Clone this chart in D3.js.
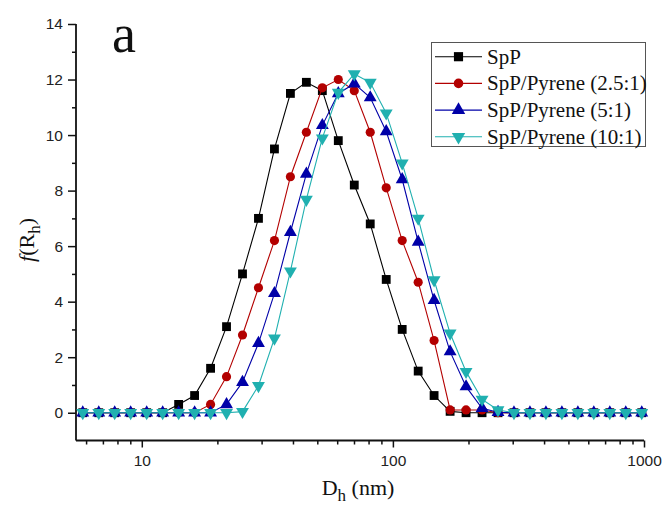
<!DOCTYPE html>
<html>
<head>
<meta charset="UTF-8">
<title>Size distribution</title>
<script src="https://cdn.jsdelivr.net/npm/d3@7/dist/d3.min.js"></script>
<style type="text/css">
body { margin: 0; background: #fff; }
svg { display: block; }
</style>
</head>
<body>
<div class="chartContainer"></div>
<script>
// hydrodynamic diameter bins (nm)
var diameters = [5.82, 6.74, 7.80, 9.03, 10.46, 12.11, 14.02, 16.23, 18.79, 21.75,
  25.18, 29.15, 33.75, 39.07, 45.23, 52.36, 60.61, 70.18, 81.24, 94.06,
  108.9, 126.1, 145.9, 169.0, 195.6, 226.5, 262.2, 303.5, 351.4, 406.8,
  471.0, 545.3, 631.2, 730.8, 846.1, 979.5];

var spp = [0, 0, 0, 0, 0, 0, 0.3, 0.62, 1.6, 3.1,
  5.0, 7.0, 9.5, 11.5, 11.9, 11.6, 9.8, 8.2, 6.8, 4.8,
  3.0, 1.5, 0.62, 0.05, 0, 0, 0, 0, 0, 0,
  0, 0, 0, 0, 0, 0];

var spp25 = [0, 0, 0, 0, 0, 0, 0, 0, 0.3, 1.3,
  2.8, 4.5, 6.2, 8.5, 10.1, 11.7, 12.0, 11.6, 10.1, 8.1,
  6.2, 4.7, 2.6, 0.1, 0.1, 0.1, 0, 0, 0, 0,
  0, 0, 0, 0, 0, 0];

var spp5 = [0, 0, 0, 0, 0, 0, 0, 0, 0, 0.3,
  1.1, 2.5, 4.3, 6.5, 8.6, 10.35, 11.5, 11.85, 11.35, 10.13,
  8.4, 6.15, 4.05, 2.2, 0.94, 0.16, 0.02, 0, 0, 0,
  0, 0, 0, 0, 0, 0];

var spp10 = [0, 0, 0, 0, 0, 0, 0, 0, 0, 0,
  0.04, 0.97, 2.68, 5.1, 7.68, 9.89, 11.53, 12.2, 11.89, 10.79,
  8.99, 7.0, 4.78, 2.86, 1.48, 0.48, 0.1, 0, 0, 0,
  0, 0, 0, 0, 0, 0];

var seriesNames = ["SpP", "SpP/Pyrene (2.5:1)", "SpP/Pyrene (5:1)", "SpP/Pyrene (10:1)"];
var seriesValues = [spp, spp25, spp5, spp10];

var yMajorTicks = [0, 2, 4, 6, 8, 10, 12, 14];
var yMinorTicks = [1, 3, 5, 7, 9, 11, 13];
var xMajorTicks = [10, 100, 1000];
var xMinorTicks = [6, 7, 8, 9, 20, 30, 40, 50, 60, 70, 80, 90, 200, 300, 400, 500, 600, 700, 800, 900];

var colors = ["#000000", "#b30000", "#0000a8", "#20b0b0"];
var shapes = [d3.symbolSquare, d3.symbolCircle, d3.symbolTriangle, d3.symbolTriangle];
var sizes = [78, 66, 72, 72];
var rotations = [0, 0, 0, 180];
var serif = "'Liberation Serif', 'Times New Roman', 'DejaVu Serif', serif";

var svg = d3.select(".chartContainer")
  .append("svg")
  .attr("width", 662)
  .attr("height", 508);

var x = d3.scaleLog()
  .domain([5.47, 1000])
  .range([76, 644]);

var y = d3.scaleLinear()
  .domain([-1, 14])
  .range([440.5, 24]);

// axes
var xAxisG = svg.append("g").attr("transform", "translate(0,440.5)");
xAxisG.call(d3.axisBottom(x).tickValues(xMajorTicks).tickSize(7).tickPadding(7)
  .tickFormat(d3.format("d")));
xAxisG.append("g").call(d3.axisBottom(x).tickValues(xMinorTicks).tickSize(4).tickFormat(""))
  .select(".domain").remove();

var yAxisG = svg.append("g").attr("transform", "translate(76,0)");
yAxisG.call(d3.axisLeft(y).tickValues(yMajorTicks).tickSize(8).tickPadding(5));
yAxisG.append("g").call(d3.axisLeft(y).tickValues(yMinorTicks).tickSize(4).tickFormat(""))
  .select(".domain").remove();

svg.selectAll(".domain").attr("stroke", "#111").attr("stroke-width", 1.8);
svg.selectAll(".tick line").attr("stroke", "#111").attr("stroke-width", 1.5);
svg.selectAll(".tick text")
  .style("font-family", "'Liberation Sans', Arial, sans-serif")
  .style("font-size", "15.5px")
  .attr("fill", "#222");
// keep only the left and bottom axis lines
xAxisG.select(".domain").attr("d", "M76,0H644");
yAxisG.select(".domain").attr("d", "M0,24V440.5");

// series
var line = d3.line()
  .x(function(d){ return x(d[0]); })
  .y(function(d){ return y(d[1]); });

seriesValues.forEach(function(vals, s){
  var pts = diameters.map(function(d, i){ return [d, vals[i]]; });
  var g = svg.append("g");
  g.append("path")
    .datum(pts)
    .attr("fill", "none")
    .attr("stroke", colors[s])
    .attr("stroke-width", 1.1)
    .attr("d", line);
  g.selectAll("path.mark")
    .data(pts)
    .enter()
    .append("path")
    .attr("class", "mark")
    .attr("d", d3.symbol().type(shapes[s]).size(sizes[s]))
    .attr("fill", colors[s])
    .attr("transform", function(d){
      return "translate(" + x(d[0]) + "," + y(d[1]) + ") rotate(" + rotations[s] + ")";
    });
});

// legend
var legend = svg.append("g");
legend.append("rect")
  .attr("x", 431.5).attr("y", 42.5)
  .attr("width", 214).attr("height", 104)
  .attr("fill", "#fff").attr("stroke", "#555").attr("stroke-width", 1);

seriesNames.forEach(function(name, s){
  var ly = 56.7 + s * 26.7;
  legend.append("line")
    .attr("x1", 435).attr("x2", 482).attr("y1", ly).attr("y2", ly)
    .attr("stroke", colors[s]).attr("stroke-width", 1.1);
  legend.append("path")
    .attr("d", d3.symbol().type(shapes[s]).size(sizes[s] + 6))
    .attr("fill", colors[s])
    .attr("transform", "translate(458.5," + ly + ") rotate(" + rotations[s] + ")");
  legend.append("text")
    .style("font-family", serif)
    .attr("x", 487).attr("y", ly + 7)
    .attr("font-size", 21)
    .attr("fill", "#111")
    .text(name);
});

// panel letter
svg.append("text")
  .style("font-family", serif)
  .attr("x", 112).attr("y", 52)
  .attr("font-size", 54)
  .attr("fill", "#111")
  .text("a");

// axis titles
var xt = svg.append("text")
  .style("font-family", serif)
  .attr("x", 358).attr("y", 495)
  .attr("text-anchor", "middle")
  .attr("font-size", 22)
  .attr("fill", "#111");
xt.append("tspan").text("D");
xt.append("tspan").attr("dy", 6).attr("font-size", 17).text("h");
xt.append("tspan").attr("dy", -6).text(" (nm)");

var yt = svg.append("text")
  .style("font-family", serif)
  .attr("transform", "translate(34,240) rotate(-90)")
  .attr("text-anchor", "middle")
  .attr("font-size", 22)
  .attr("fill", "#111");
yt.append("tspan").attr("font-style", "italic").text("f");
yt.append("tspan").text("(R");
yt.append("tspan").attr("dy", 6).attr("font-size", 17).text("h");
yt.append("tspan").attr("dy", -6).text(")");
</script>
</body>
</html>
